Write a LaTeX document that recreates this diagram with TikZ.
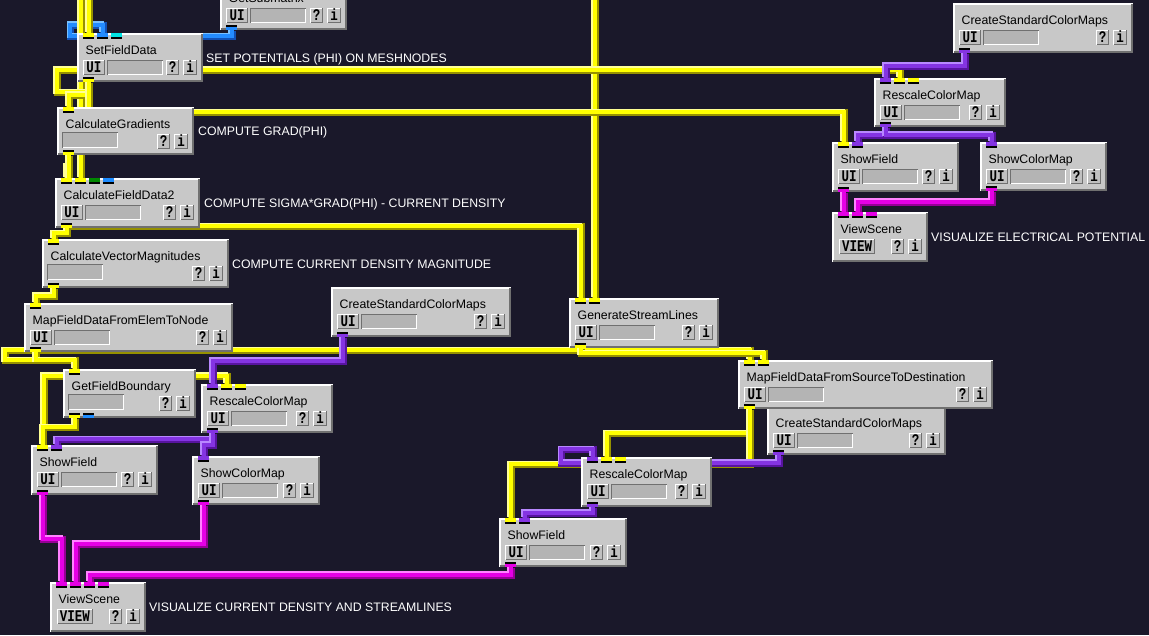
\documentclass[tikz,border=0pt]{standalone}
\usepackage{fontspec}
\newfontfamily\guifont{Liberation Sans}
\newfontfamily\monofont{Liberation Mono}
\usetikzlibrary{calc}

% palette
\definecolor{canvasbg}{RGB}{26,24,42}
\definecolor{boxgray}{RGB}{200,200,200}
\definecolor{fieldgray}{RGB}{180,180,180}
\definecolor{btngray}{RGB}{192,192,192}
\definecolor{edgegray}{RGB}{112,112,112}
\definecolor{wyel}{RGB}{255,255,0}
\definecolor{wyellt}{RGB}{255,255,150}
\definecolor{wyeldk}{RGB}{150,145,0}
\definecolor{wpur}{RGB}{132,52,226}
\definecolor{wpurlt}{RGB}{184,136,255}
\definecolor{wpurdk}{RGB}{88,20,160}
\definecolor{wblu}{RGB}{36,140,255}
\definecolor{wblult}{RGB}{120,192,255}
\definecolor{wbludk}{RGB}{18,80,180}
\definecolor{wmag}{RGB}{228,0,228}
\definecolor{wmaglt}{RGB}{255,130,255}
\definecolor{wmagdk}{RGB}{150,0,150}
\definecolor{pcyan}{RGB}{0,228,228}
\definecolor{pgreen}{RGB}{0,135,0}
\definecolor{pblue}{RGB}{30,140,255}

\pgfdeclarelayer{bglayer}
\pgfdeclarelayer{wirelayer}
\pgfsetlayers{bglayer,wirelayer,main}

\tikzset{
  modbody/.style={rectangle, inner sep=0pt, outer sep=0pt, fill=boxgray, anchor=north west},
  titletext/.style={anchor=base west, inner sep=0pt, font=\guifont\fontsize{12.3}{14}\selectfont},
  btntext/.style={anchor=base, inner sep=0pt, font=\monofont\bfseries\fontsize{12.5}{14}\selectfont},
  annotext/.style={anchor=base west, inner sep=0pt, text=white, font=\guifont\fontsize{12.3}{14}\selectfont},
  wirebase/.style={line join=miter, line cap=butt}
}

% raised push button: x1 y1 x2 y2 label name
\newcommand\gbtn[6]{%
  \fill[btngray] (#1,#2) rectangle (#3,#4);
  \draw[white, line width=1pt] (#1+0.5,#4) -- (#1+0.5,#2+0.5) -- (#3,#2+0.5);
  \draw[edgegray, line width=1pt] (#1+0.5,#4-0.5) -- (#3-0.5,#4-0.5) -- (#3-0.5,#2);
  \node[btntext] (#6) at ({(#1+#3)/2},#4-3) {\scalebox{1}[1.3]{#5}};
}
% sunken progress field: x1 y1 x2 y2
\newcommand\gfield[4]{%
  \fill[fieldgray] (#1,#2) rectangle (#3,#4);
  \draw[edgegray, line width=1pt] (#1+0.5,#4) -- (#1+0.5,#2+0.5) -- (#3,#2+0.5);
  \draw[white, line width=1pt] (#1+1,#4-0.5) -- (#3-0.5,#4-0.5) -- (#3-0.5,#2+1);
}
% module: id, left, top, right, bottom, title, kind (0 field only, 1 UI, 2 VIEW)
\newcommand\gmodule[7]{%
  \node[modbody, minimum width={(#4-#2)*1pt}, minimum height={(#5-#3)*1pt}] (#1) at (#2,#3) {};
  \draw[white, line width=1.5pt] (#2+0.75,#5) -- (#2+0.75,#3+0.75) -- (#4,#3+0.75);
  \draw[edgegray, line width=2pt] (#2+1,#5-1) -- (#4-1,#5-1) -- (#4-1,#3+1);
  \node[titletext] (#1-title) at (#2+8.5,#3+21) {#6};
  \ifcase#7
    \gfield{#2+5}{#3+25}{#2+61}{#3+41}
  \or
    \gbtn{#2+6}{#3+27}{#2+28}{#3+42}{UI}{#1-ui}
    \gfield{#2+30}{#3+27}{#2+86}{#3+42}
  \or
    \gbtn{#2+7}{#3+27}{#2+43}{#3+42}{VIEW}{#1-view}
  \fi
  \gbtn{#4-37}{#3+27}{#4-24}{#3+42}{?}{#1-help}
  \gbtn{#4-20}{#3+27}{#4-6}{#3+42}{i}{#1-info}
}
% input port on the top edge: module, index, colour
\newcommand\inport[3]{%
  \coordinate (#1-i#2) at ($(#1.north west)+({11.5+14*(#2-1)},0)$);
  \fill[#3] ($(#1-i#2)+(-5.5,0)$) rectangle ($(#1-i#2)+(5.5,3.5)$);
  \fill[black] ($(#1-i#2)+(-5.5,3.5)$) rectangle ($(#1-i#2)+(5.5,5.5)$);
}
% output port on the bottom edge: module, index, colour
\newcommand\outport[3]{%
  \coordinate (#1-o#2) at ($(#1.south west)+({11.5+14*(#2-1)},0)$);
  \fill[black] ($(#1-o#2)+(-5.5,-5.5)$) rectangle ($(#1-o#2)+(5.5,-3)$);
  \fill[#3] ($(#1-o#2)+(-5.5,-3)$) rectangle ($(#1-o#2)+(5.5,0)$);
}
% shaded pipe: colour prefix, path
\newcommand\wire[2]{%
  \draw[wirebase, draw=#1dk, line width=7pt, transform canvas={shift={(0.6,0.6)}}] #2;
  \draw[wirebase, draw=#1lt, line width=5pt, transform canvas={shift={(-0.6,-0.6)}}] #2;
  \draw[wirebase, draw=#1, line width=4pt] #2;
}

\begin{document}
\begin{tikzpicture}[x=1pt, y=-1pt]
\useasboundingbox (0,0) rectangle (1149,635);
\begin{pgfonlayer}{bglayer}
  \fill[canvasbg] (0,0) rectangle (1149,635);
\end{pgfonlayer}

\begin{scope}
\clip (0,0) rectangle (1149,635);
% modules
\gmodule{gsm}{220}{-19}{347}{30}{GetSubmatrix}{1}
\gmodule{sfd}{77}{33}{203}{82}{SetFieldData}{1}
\gmodule{cg}{57}{107}{194}{155}{CalculateGradients}{0}
\gmodule{cfd}{55}{178}{200}{228}{CalculateFieldData2}{1}
\gmodule{cvm}{42}{239}{229}{288}{CalculateVectorMagnitudes}{0}
\gmodule{mfen}{24}{303}{233}{352}{MapFieldDataFromElemToNode}{1}
\gmodule{cscmM}{331}{287}{511}{337}{CreateStandardColorMaps}{1}
\gmodule{gsl}{569}{298}{719}{348}{GenerateStreamLines}{1}
\gmodule{gfb}{63}{369}{196}{418}{GetFieldBoundary}{0}
\gmodule{rcmL}{201}{384}{333}{433}{RescaleColorMap}{1}
\gmodule{sfL}{31}{445}{158}{495}{ShowField}{1}
\gmodule{scmL}{192}{456}{320}{505}{ShowColorMap}{1}
\gmodule{vsL}{50}{582}{146}{632}{ViewScene}{2}
\gmodule{cscmB}{767}{406}{946}{455}{CreateStandardColorMaps}{1}
\gmodule{mfsd}{738}{360}{993}{409}{MapFieldDataFromSourceToDestination}{1}
\gmodule{rcmB}{581}{457}{712}{507}{RescaleColorMap}{1}
\gmodule{sfB}{499}{518}{627}{567}{ShowField}{1}
\gmodule{cscmR}{953}{3}{1133}{53}{CreateStandardColorMaps}{1}
\gmodule{rcmR}{874}{78}{1006}{127}{RescaleColorMap}{1}
\gmodule{sfR}{832}{142}{959}{192}{ShowField}{1}
\gmodule{scmR}{980}{142}{1107}{191}{ShowColorMap}{1}
\gmodule{vsR}{832}{212}{928}{262}{ViewScene}{2}

% ports
\outport{gsm}{1}{wblu}
\inport{sfd}{1}{wyel}\inport{sfd}{2}{wblu}\inport{sfd}{3}{pcyan}\outport{sfd}{1}{wyel}
\inport{cg}{1}{wyel}\outport{cg}{1}{wyel}
\inport{cfd}{1}{wyel}\inport{cfd}{2}{wyel}\inport{cfd}{3}{pgreen}\inport{cfd}{4}{pblue}\outport{cfd}{1}{wyel}
\inport{cvm}{1}{wyel}\outport{cvm}{1}{wyel}
\inport{mfen}{1}{wyel}\outport{mfen}{1}{wyel}
\outport{cscmM}{1}{wpur}
\inport{gsl}{1}{wyel}\inport{gsl}{2}{wyel}\outport{gsl}{1}{wyel}
\inport{gfb}{1}{wyel}\outport{gfb}{1}{wyel}\outport{gfb}{2}{pblue}
\inport{rcmL}{1}{wpur}\inport{rcmL}{2}{wyel}\inport{rcmL}{3}{wyel}\outport{rcmL}{1}{wpur}
\inport{sfL}{1}{wyel}\inport{sfL}{2}{wpur}\outport{sfL}{1}{wmag}
\inport{scmL}{1}{wpur}\outport{scmL}{1}{wmag}
\inport{vsL}{1}{wmag}\inport{vsL}{2}{wmag}\inport{vsL}{3}{wmag}\inport{vsL}{4}{wmag}
\outport{cscmB}{1}{wpur}
\inport{mfsd}{1}{wyel}\inport{mfsd}{2}{wyel}\outport{mfsd}{1}{wyel}
\inport{rcmB}{1}{wpur}\inport{rcmB}{2}{wyel}\inport{rcmB}{3}{wyel}\outport{rcmB}{1}{wpur}
\inport{sfB}{1}{wyel}\inport{sfB}{2}{wpur}\outport{sfB}{1}{wmag}
\outport{cscmR}{1}{wpur}
\inport{rcmR}{1}{wpur}\inport{rcmR}{2}{wyel}\inport{rcmR}{3}{wyel}\outport{rcmR}{1}{wpur}
\inport{sfR}{1}{wyel}\inport{sfR}{2}{wpur}\outport{sfR}{1}{wmag}
\inport{scmR}{1}{wpur}\outport{scmR}{1}{wmag}
\inport{vsR}{1}{wmag}\inport{vsR}{2}{wmag}\inport{vsR}{3}{wmag}

% notes beside the modules
\node[annotext] (noteA) at (206,62.5) {SET POTENTIALS (PHI) ON MESHNODES};
\node[annotext] (noteB) at (198,135) {COMPUTE GRAD(PHI)};
\node[annotext] (noteC) at (204,207) {COMPUTE SIGMA*GRAD(PHI) - CURRENT DENSITY};
\node[annotext] (noteD) at (232,268) {COMPUTE CURRENT DENSITY MAGNITUDE};
\node[annotext] (noteE) at (931,241.5) {VISUALIZE ELECTRICAL POTENTIAL};
\node[annotext] (noteF) at (149,611.5) {VISUALIZE CURRENT DENSITY AND STREAMLINES};
\end{scope}

% connections, drawn behind the modules
\begin{pgfonlayer}{wirelayer}
\clip (0,0) rectangle (1149,635);
\coordinate (feedA) at (88.5,-10);
\coordinate (feedB) at (80.5,-10);
\coordinate (feedC) at (594.5,-10);

\wire{wblu}{(gsm-o1) -- ++(0,6) -| (70,24.5) -| (sfd-i2)}

\wire{wyel}{(feedA) -- (sfd-i1)}
\wire{wyel}{(feedB) -- (cfd-i2)}
\wire{wyel}{(feedC) -- (gsl-i2)}
\wire{wyel}{(sfd-o1) -- ++(0,10) -| (56.5,69.5) -| (rcmR-i2)}
\wire{wyel}{(sfd-o1) -- ++(0,12.5) -| (cg-i1)}
\wire{wyel}{(sfd-o1) -- ++(0,30) -| (sfR-i1)}
\wire{wyel}{(cg-o1) -- ++(0,11) -| (cfd-i1)}
\wire{wyel}{(cg-o1) -- ++(0,71) -| (gsl-i1)}
\wire{wyel}{(cfd-o1) -- ++(0,5) -| (cvm-i1)}
\wire{wyel}{(cvm-o1) -- ++(0,7.5) -| (mfen-i1)}
\wire{wyel}{(mfen-o1) -- ++(0,8) -| (4.5,350) -| (mfsd-i1)}
\wire{wyel}{(mfen-o1) -- ++(0,8) -| (gfb-i1)}
\wire{wyel}{(gsl-o1) -- ++(0,5) -| (mfsd-i2)}
\wire{wyel}{(gfb-o1) -- ++(0,9) -| (43.5,375.5) -| (rcmL-i2)}
\wire{wyel}{(gfb-o1) -- ++(0,9) -| (sfL-i1)}
\wire{wyel}{(mfsd-o1) -- ++(0,24) -| (rcmB-i2)}
\wire{wyel}{(mfsd-o1) -- ++(0,55) -| (sfB-i1)}

\wire{wpur}{(cscmR-o1) -- ++(0,12.5) -| (rcmR-i1)}
\wire{wpur}{(rcmR-o1) -- ++(0,7.5) -| (sfR-i2)}
\wire{wpur}{(rcmR-o1) -- ++(0,7.5) -| (scmR-i1)}
\wire{wpur}{(cscmM-o1) -- ++(0,23.5) -| (rcmL-i1)}
\wire{wpur}{(rcmL-o1) -- ++(0,6) -| (sfL-i2)}
\wire{wpur}{(rcmL-o1) -- ++(0,11.5) -| (scmL-i1)}
\wire{wpur}{(cscmB-o1) -- ++(0,7.5) -| (561,449) -| (rcmB-i1)}
\wire{wpur}{(rcmB-o1) -- ++(0,5.5) -| (sfB-i2)}

\wire{wmag}{(sfR-o1) -- (vsR-i1)}
\wire{wmag}{(scmR-o1) -- ++(0,10.5) -| (vsR-i2)}
\wire{wmag}{(sfL-o1) -- ++(0,43.5) -| (vsL-i1)}
\wire{wmag}{(scmL-o1) -- ++(0,38.5) -| (vsL-i2)}
\wire{wmag}{(sfB-o1) -- ++(0,7.5) -| (vsL-i3)}
\end{pgfonlayer}
\end{tikzpicture}
\end{document}
